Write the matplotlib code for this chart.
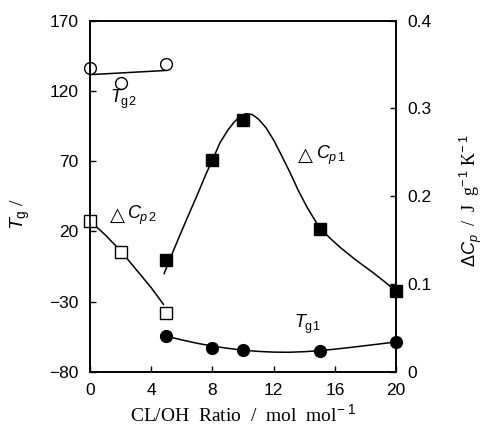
import matplotlib
matplotlib.use('Agg')
import matplotlib.pyplot as plt

plt.rcParams['font.family'] = ['Liberation Sans', 'DejaVu Sans']
plt.rcParams['mathtext.fontset'] = 'custom'
plt.rcParams['mathtext.rm'] = 'Liberation Sans'
plt.rcParams['mathtext.it'] = 'Liberation Sans:italic'

# measured points
ratio_tg2 = [0, 2, 5]
tg2 = [136.5, 125.6, 139.0]
ratio_cp2 = [0, 2, 5]
cp2 = [0.172, 0.137, 0.067]
ratio_cp1 = [5, 8, 10, 15, 20]
cp1 = [0.127, 0.241, 0.287, 0.163, 0.092]
ratio_tg1 = [5, 8, 10, 15, 20]
tg1 = [-54.6, -62.9, -64.5, -65.0, -58.6]

# hand-drawn guide curves
fit_tg2_x = [0, 5]
fit_tg2_y = [131.5, 134.5]
fit_cp2_x = [0, 1, 2, 3, 4, 4.8]
fit_cp2_y = [0.172, 0.156, 0.138, 0.117, 0.096, 0.077]
fit_cp1_x = [4.85, 5.5, 6.3, 7.0, 7.6, 8.0, 8.5, 9.0, 9.4, 9.8, 10.2, 10.6, 11.0,
             11.5, 12.0, 12.5, 13.1, 13.6, 14.2, 15.0, 15.7, 16.4, 17.4, 18.5, 19.3, 20.0]
fit_cp1_y = [0.112, 0.140, 0.173, 0.201, 0.226, 0.241, 0.261, 0.275, 0.284, 0.291, 0.294, 0.293, 0.288,
             0.278, 0.264, 0.247, 0.226, 0.207, 0.187, 0.164, 0.152, 0.141, 0.127, 0.113, 0.102, 0.092]
fit_tg1_x = [5, 6, 7, 8, 9, 10, 11, 12, 13, 14, 15, 16, 17, 18, 19, 20]
fit_tg1_y = [-54.6, -57.2, -59.6, -61.6, -63.2, -64.5, -65.4, -65.9, -66.0, -65.6, -64.9,
             -63.8, -62.6, -61.3, -60.0, -58.6]

fig = plt.figure(figsize=(4.86, 4.28), dpi=100)
ax = fig.add_axes([0.185, 0.131, 0.630, 0.821])
ax2 = ax.twinx()

mk = dict(markersize=8.5, markeredgewidth=1.0, markeredgecolor='k', linestyle='none')

ax.plot(fit_tg2_x, fit_tg2_y, color='k', lw=1.1)
ax.plot(ratio_tg2, tg2, marker='o', markerfacecolor='white', clip_on=False, **mk)
ax.plot(fit_tg1_x, fit_tg1_y, color='k', lw=1.1)
ax.plot(ratio_tg1, tg1, marker='o', markerfacecolor='k', clip_on=False, **mk)

ax2.plot(fit_cp2_x, fit_cp2_y, color='k', lw=1.1)
ax2.plot(ratio_cp2, cp2, marker='s', markerfacecolor='white', clip_on=False, **mk)
ax2.plot(fit_cp1_x, fit_cp1_y, color='k', lw=1.1)
ax2.plot(ratio_cp1, cp1, marker='s', markerfacecolor='k', clip_on=False, **mk)

ax.set_xlim(0, 20)
ax.set_ylim(-80, 170)
ax2.set_ylim(0, 0.4)
ax.set_xticks([0, 4, 8, 12, 16, 20])
ax.set_yticks([-80, -30, 20, 70, 120, 170])
ax2.set_yticks([0, 0.1, 0.2, 0.3, 0.4])
ax2.set_yticklabels(['0', '0.1', '0.2', '0.3', '0.4'])

for a in (ax, ax2):
    a.tick_params(direction='in', length=4, width=1, labelsize=12.5, pad=8)
    for s in a.spines.values():
        s.set_linewidth(1.2)

serif = ['Liberation Serif', 'DejaVu Serif']
ax.set_xlabel('CL/OH  Ratio  /  mol  mol$^{\\mathrm{-\\ 1}}$', family=serif, fontsize=14, labelpad=4)
fig.text(0.042, 0.50, '$T_{\\mathrm{g}}$ /', family=serif, fontsize=14, rotation=90,
         ha='center', va='center')
fig.text(0.968, 0.53, '$\\Delta C_p$  /  J  g$^{\\mathrm{-\\,1}}$ K$^{\\mathrm{-\\,1}}$', family=serif,
         fontsize=13, rotation=90, ha='center', va='center')

ax.text(1.3, 114, '$T_{\\mathrm{g2}}$', fontsize=13, va='center')
ax.text(13.3, -46.5, '$T_{\\mathrm{g1}}$', fontsize=13, va='center')
# open triangle drawn in DejaVu (Liberation lacks it), then the symbol
ax2.text(1.3, 0.178, '△', family='DejaVu Sans', style='oblique', fontsize=14, va='center')
ax2.text(2.45, 0.178, '$C_{p\\,\\mathrm{2}}$', fontsize=13, va='center')
ax2.text(13.6, 0.247, '△', family='DejaVu Sans', style='oblique', fontsize=14, va='center')
ax2.text(14.75, 0.247, '$C_{p\\,\\mathrm{1}}$', fontsize=13, va='center')

fig.savefig('out.png', dpi=100)
